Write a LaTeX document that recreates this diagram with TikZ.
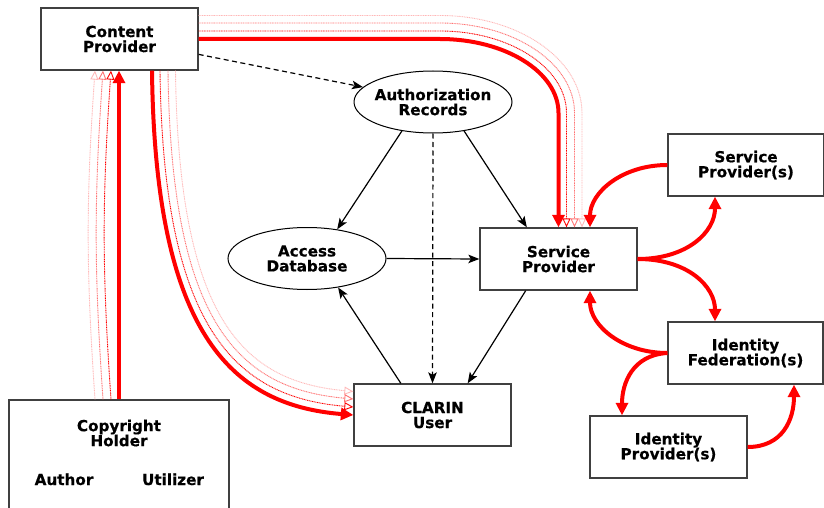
\documentclass[tikz,border=0pt]{standalone}
\usepackage{fontspec}
\setmainfont{DejaVu Sans}[BoldFeatures={FakeBold=0.5}]
\usetikzlibrary{arrows.meta,shapes.geometric}

\begin{document}
\begin{tikzpicture}[x=1pt,y=-1pt,
  every node/.style={font=\bfseries\fontsize{15.2}{15}\selectfont, align=center, inner sep=0pt},
  box/.style={draw=black!75, line width=1.3pt, fill=white, minimum width=157pt, minimum height=62pt},
  oval/.style={draw, ellipse, line width=1pt, fill=white, inner xsep=-8pt, inner ysep=0pt,
    minimum width=158pt, minimum height=62pt},
  link/.style={line width=1.2pt, -{Stealth[length=11pt,width=8.5pt,inset=2.5pt]}},
  dashlink/.style={link, dash pattern=on 5pt off 3.5pt},
  flow/.style={red, line width=4pt, -{Triangle[length=12.5pt,width=12pt]}},
  echo/.style={line width=0.9pt, dash pattern=on 1pt off 0.7pt,
    -{Triangle[open,length=9pt,width=8pt]}},
  echoA/.style={echo, red},
  echoB/.style={echo, red!55},
  echoC/.style={echo, red!28}]

\useasboundingbox (0,0) rectangle (824,508);
\clip (0,0) rectangle (824,508);

% parties and services
\node[box] (cp) at (119.5,39) {Content\\Provider};
\node[box, minimum width=220pt, minimum height=120pt] (ch) at (119,460) {};
\node (chtitle) at (119,433) {Copyright\\Holder};
\node[anchor=base] (author) at (64,485) {Author};
\node[anchor=base] (utilizer) at (173,485) {Utilizer};
\node[oval] (ar) at (433,102) {Authorization\\Records};
\node[oval] (ad) at (307,258.5) {Access\\Database};
\node[box] (sp) at (558.5,259) {Service\\Provider};
\node[box] (cu) at (432.5,415) {CLARIN\\User};
\node[box, minimum width=156pt] (sps) at (746,165) {Service\\Provider(s)};
\node[box, minimum width=155pt] (idf) at (745.5,353) {Identity\\Federation(s)};
\node[box] (idp) at (668.5,447) {Identity\\Provider(s)};

% authorization links
\draw[dashlink] (cp.-11.5) -- (ar.168.8);
\draw[link] (ar.223) -- (ad.44.5);
\draw[link] (ar.317) -- (sp.135.5);
\draw[dashlink] (ar.south) -- (cu.north);
\draw[link] (ad.east) -- (sp.west);
\draw[link] (cu.135.5) -- (ad.317.3);
\draw[link] (sp.224.5) -- (cu.42.8);

% copyright holder to content provider, with fading trail
\foreach \d/\s in {24/echoC,16/echoB,8/echoA}
  \draw[\s] ([xshift=-\d pt]ch.north) .. controls +(-9,-130) and +(-9,130) .. ([xshift=-\d pt-0.5pt]cp.south);
\draw[flow] (ch.north) -- (ch.north |- cp.south);

% content provider to CLARIN user, with fading trail
\foreach \d/\s in {23.5/echoC,16/echoB,8/echoA}
  \draw[\s] ([xshift=32.5pt+\d pt]cp.south) .. controls +(3,{260-0.3*\d}) and +({-124+0.7*\d},-10) .. ([yshift=\d pt]cu.west);
\draw[flow] ([xshift=32.5pt]cp.south) .. controls +(3,260) and +(-124,-10) .. (cu.west);

% content provider to service provider, with fading trail
\foreach \d/\s in {23.5/echoC,16/echoB,8/echoA}
  \draw[\s] ([yshift=\d pt]cp.east) -- (440,{39-\d})
    .. controls ({440+0.552*(118+\d)},{39-\d}) and ({558.5+\d},{113-0.552*(74+\d)}) .. ({558.5+\d},113)
    -- ([xshift=\d pt]sp.north);
\draw[flow] (cp.east) -- (440,39) .. controls (505,39) and (558.5,72) .. (558.5,113) -- (sp.north);

% federation exchanges
\draw[flow] (sps.west) .. controls +(-45,0) and +(0,-35) .. ([xshift=31.5pt]sp.north);
\draw[flow] (sp.east) .. controls +(50,0) and +(0,35) .. ([xshift=-31pt]sps.south);
\draw[flow] (sp.east) .. controls +(50,0) and +(0,-35) .. ([xshift=-30.5pt]idf.north);
\draw[flow] (idf.west) .. controls +(-45,0) and +(0,35) .. ([xshift=31.5pt]sp.south);
\draw[flow] (idf.west) .. controls +(-35,2) and +(0,-32) .. ([xshift=-46.5pt]idp.north);
\draw[flow] (idp.east) .. controls +(35,0) and +(0,35) .. ([xshift=48.5pt]idf.south);
\end{tikzpicture}
\end{document}
